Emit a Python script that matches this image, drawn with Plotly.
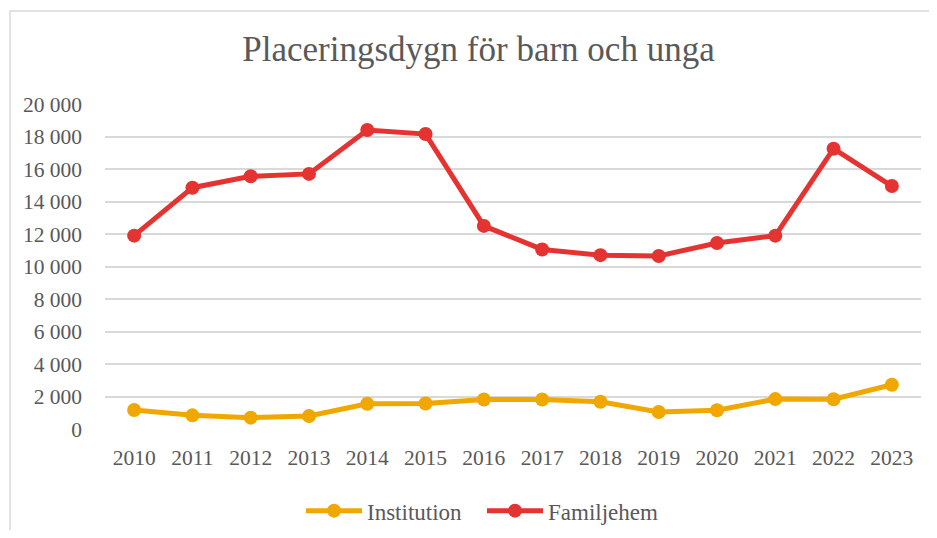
import plotly.graph_objects as go

years = [str(y) for y in range(2010, 2024)]
institution = [1170, 840, 700, 800, 1550, 1570, 1820, 1820, 1680, 1050, 1150, 1840, 1830, 2720]
familjehem = [11900, 14850, 15550, 15700, 18400, 18150, 12500, 11050, 10700, 10650, 11450, 11900, 17250, 14950]
y_ticks = list(range(0, 20001, 2000))

# page body has an 8px margin, so the figure is sized to the visible area
W, H = 921, 522
L, R, T, B = 97, 8, 96, 101
pw, ph = W - L - R, H - T - B

ORANGE = "#F0A800"
RED = "#E53332"
FONT = "Liberation Serif"
GREY = "#595959"

fig = go.Figure()
fig.add_trace(go.Scatter(x=years, y=institution, name="Institution", mode="lines+markers",
                         line=dict(color=ORANGE, width=5), marker=dict(color=ORANGE, size=14)))
fig.add_trace(go.Scatter(x=years, y=familjehem, name="Familjehem", mode="lines+markers",
                         line=dict(color=RED, width=5), marker=dict(color=RED, size=14)))

fig.update_layout(
    width=W, height=H,
    margin=dict(l=L, r=R, t=T, b=B, autoexpand=False),
    paper_bgcolor="white", plot_bgcolor="white",
    separators=", ",
    font=dict(family=FONT, color=GREY, size=21.5),
    title=dict(text="Placeringsdygn för barn och unga", x=470.5 / W, xanchor="center",
               y=1 - 41 / H, yanchor="middle", yref="container",
               font=dict(family=FONT, size=35, color=GREY)),
    xaxis=dict(type="category", range=[-0.5, 13.5], showgrid=False, zeroline=False,
               showline=False, automargin=False,
               ticks="", ticklabelstandoff=13, tickfont=dict(family=FONT, size=21.5, color=GREY)),
    yaxis=dict(range=[0, 20000], tickvals=y_ticks, tickformat=",d", showgrid=True, automargin=False,
               gridcolor="#D9D9D9", gridwidth=1.5, zeroline=False, showline=False,
               ticks="", ticklabelstandoff=22, tickfont=dict(family=FONT, size=21.5, color=GREY)),
    legend=dict(orientation="h", x=(474 - L) / pw, xanchor="center", y=(421.3 - 503) / ph,
                yanchor="middle", font=dict(family=FONT, size=23, color=GREY), itemwidth=56,
                entrywidth=110),
    showlegend=True,
)

fig.add_shape(type="rect", xref="paper", yref="paper",
              x0=(2 - L) / pw, x1=2.0, y0=-1.0, y1=(H - B - 3) / ph,
              line=dict(color="#D9D9D9", width=1.5), fillcolor="rgba(0,0,0,0)", layer="below")

fig.write_html("out.html")
